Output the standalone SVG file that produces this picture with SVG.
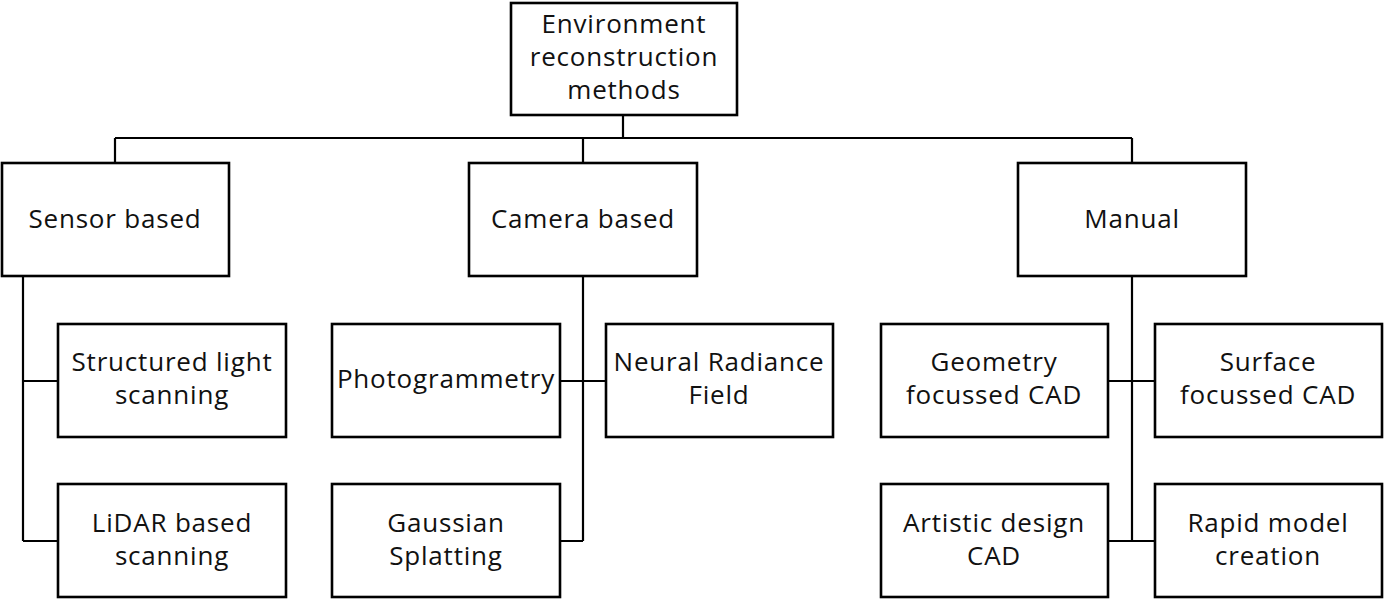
<svg xmlns="http://www.w3.org/2000/svg" width="1384" height="600" viewBox="0 0 1384 600">
<style>
.box{fill:#fff;stroke:#000;stroke-width:2.6}
.ln{fill:none;stroke:#000;stroke-width:2.2}
text{font-family:"Open Sans","Liberation Sans",Arial,sans-serif;font-size:26px;letter-spacing:0.8px;fill:#111;text-anchor:middle}
</style>
<rect width="1384" height="600" fill="#fff"/>
<g id="connectors">
<path class="ln" d="M623 115V138M115 138H1132M115 138V163M583 138V163M1132 138V163"/>
<path class="ln" d="M23 276V541M23 381H58M23 541H58"/>
<path class="ln" d="M583 276V541M560 381H606M560 541H583"/>
<path class="ln" d="M1132 276V541M1108 381H1155M1108 541H1155"/>
</g>
<g id="root"><rect class="box" x="511" y="3" width="226" height="112"/><text x="624" y="33">Environment</text><text x="624" y="66">reconstruction</text><text x="624" y="99">methods</text></g>
<g id="sensor"><rect class="box" x="2" y="163" width="227" height="113"/><text x="115" y="228">Sensor based</text></g>
<g id="camera"><rect class="box" x="469" y="163" width="228" height="113"/><text x="583" y="228">Camera based</text></g>
<g id="manual"><rect class="box" x="1018" y="163" width="228" height="113"/><text x="1132" y="228">Manual</text></g>
<g id="structured"><rect class="box" x="58" y="324" width="228" height="113"/><text x="172" y="371">Structured light</text><text x="172" y="404">scanning</text></g>
<g id="lidar"><rect class="box" x="58" y="484" width="228" height="113"/><text x="172" y="532">LiDAR based</text><text x="172" y="565">scanning</text></g>
<g id="photogrammetry"><rect class="box" x="332" y="324" width="228" height="113"/><text x="446" y="388">Photogrammetry</text></g>
<g id="nerf"><rect class="box" x="606" y="324" width="227" height="113"/><text x="719" y="371">Neural Radiance</text><text x="719" y="404">Field</text></g>
<g id="gaussian"><rect class="box" x="332" y="484" width="228" height="113"/><text x="446" y="532">Gaussian</text><text x="446" y="565">Splatting</text></g>
<g id="geometry"><rect class="box" x="881" y="324" width="227" height="113"/><text x="994" y="371">Geometry</text><text x="994" y="404">focussed CAD</text></g>
<g id="surface"><rect class="box" x="1155" y="324" width="227" height="113"/><text x="1268" y="371">Surface</text><text x="1268" y="404">focussed CAD</text></g>
<g id="artistic"><rect class="box" x="881" y="484" width="227" height="113"/><text x="994" y="532">Artistic design</text><text x="994" y="565">CAD</text></g>
<g id="rapid"><rect class="box" x="1155" y="484" width="227" height="113"/><text x="1268" y="532">Rapid model</text><text x="1268" y="565">creation</text></g>
</svg>
